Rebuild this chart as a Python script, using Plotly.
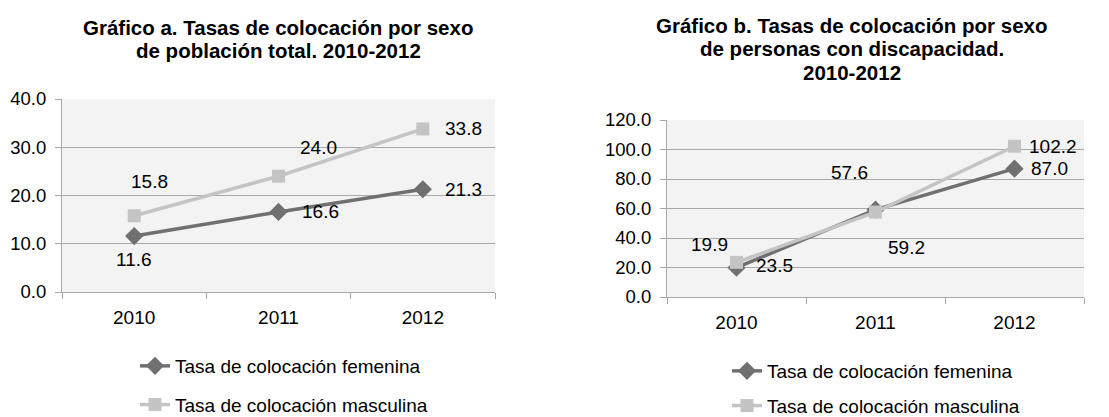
import plotly.graph_objects as go

YEARS = ["2010", "2011", "2012"]

# Gráfico a: población total
TOTAL_FEM = [11.6, 16.6, 21.3]
TOTAL_MASC = [15.8, 24.0, 33.8]

# Gráfico b: personas con discapacidad
DISC_FEM = [19.9, 59.2, 87.0]
DISC_MASC = [23.5, 57.6, 102.2]

NAME_FEM = "Tasa de colocación femenina"
NAME_MASC = "Tasa de colocación masculina"

TITLE_A = ["Gráfico a. Tasas de colocación por sexo", "de población total. 2010-2012"]
TITLE_B = ["Gráfico b. Tasas de colocación por sexo", "de personas con discapacidad.", "2010-2012"]

FONT = "Liberation Sans, Arial, sans-serif"
DARK = "#707070"
LIGHT = "#c4c4c4"
GRID = "#a8a8a8"

# the page body has an 8px margin, so the figure is drawn slightly smaller
PAGE_W, PAGE_H, OFF = 1109, 417, 8
W, H = PAGE_W - OFF, PAGE_H - OFF


def px_x(p):
    return (p - OFF) / W


def px_y(p):
    return (PAGE_H - p) / H


fig = go.Figure()

series = [
    ("x", "y", "legend", TOTAL_FEM, TOTAL_MASC),
    ("x2", "y2", "legend2", DISC_FEM, DISC_MASC),
]
for xa, ya, leg, fem, masc in series:
    fig.add_trace(go.Scatter(
        x=YEARS, y=fem, name=NAME_FEM, xaxis=xa, yaxis=ya, legend=leg,
        mode="lines+markers", legendgroup=leg + "f",
        line=dict(color=DARK, width=3.5),
        marker=dict(symbol="diamond", size=14, color=DARK),
    ))
    fig.add_trace(go.Scatter(
        x=YEARS, y=masc, name=NAME_MASC, xaxis=xa, yaxis=ya, legend=leg,
        mode="lines+markers", legendgroup=leg + "m",
        line=dict(color=LIGHT, width=3.5),
        marker=dict(symbol="square", size=13, color=LIGHT),
    ))

# data labels: (axis suffix, values, pixel offsets per point)
label_sets = [
    ("", TOTAL_FEM, [(0, -23), (42, 0), (41, 0)]),
    ("", TOTAL_MASC, [(15, 34), (40, 29), (41, 0)]),
    ("2", DISC_FEM, [(-27, 23), (31, -38), (35, 0)]),
    ("2", DISC_MASC, [(38, -3), (-26, 40), (38, 0)]),
]
annotations = []
for ax, vals, offs in label_sets:
    for i, (v, (dx, dy)) in enumerate(zip(vals, offs)):
        annotations.append(dict(
            x=i, y=v, xref="x" + ax, yref="y" + ax, text=f"{v:.1f}",
            showarrow=False, xshift=dx, yshift=dy,
            font=dict(size=19, color="#000000", family=FONT),
        ))

for cx, lines_y, lines in [(278, [27, 50], TITLE_A), (852, [25, 48, 72], TITLE_B)]:
    for ly, txt in zip(lines_y, lines):
        annotations.append(dict(
            x=px_x(cx), y=px_y(ly), xref="paper", yref="paper",
            text=f"<b>{txt}</b>", showarrow=False,
            xanchor="center", yanchor="middle",
            font=dict(size=20.5, color="#000000", family=FONT),
        ))

xcommon = dict(
    type="category", range=[-0.5, 2.5], showgrid=False, showline=True,
    linecolor=GRID, linewidth=1, ticks="outside", tickson="boundaries",
    ticklen=6, tickcolor=GRID, tickangle=0, automargin=False,
    ticklabelstandoff=8, tickfont=dict(size=19, color="#000000", family=FONT),
    fixedrange=True,
)
ycommon = dict(
    showgrid=True, gridcolor=GRID, gridwidth=1, showline=True, linecolor=GRID,
    linewidth=1, ticks="outside", ticklen=6, tickcolor=GRID, tickformat=".1f",
    ticklabelstandoff=5, zeroline=False, automargin=False,
    tickfont=dict(size=18.5, color="#000000", family=FONT), fixedrange=True,
)

legend_common = dict(
    orientation="v", xanchor="left", yanchor="top", bgcolor="rgba(0,0,0,0)",
    font=dict(size=19, color="#000000", family=FONT),
    traceorder="grouped",
)

fig.update_layout(
    width=W, height=H,
    margin=dict(l=0, r=0, t=0, b=0, autoexpand=False),
    paper_bgcolor="#ffffff",
    plot_bgcolor="#f3f3f3",
    font=dict(family=FONT, color="#000000"),
    xaxis=dict(xcommon, domain=[px_x(62), px_x(495)], anchor="y"),
    yaxis=dict(ycommon, domain=[px_y(292), px_y(99)], range=[0, 40], dtick=10, anchor="x"),
    xaxis2=dict(xcommon, domain=[px_x(667), px_x(1084)], anchor="y2"),
    yaxis2=dict(ycommon, domain=[px_y(297), px_y(120)], range=[0, 120], dtick=20, anchor="x2"),
    legend=dict(legend_common, x=px_x(135), y=px_y(347), tracegroupgap=11),
    legend2=dict(legend_common, x=px_x(727), y=px_y(352), tracegroupgap=7),
    annotations=annotations,
    showlegend=True,
)

fig.write_html("out.html")
